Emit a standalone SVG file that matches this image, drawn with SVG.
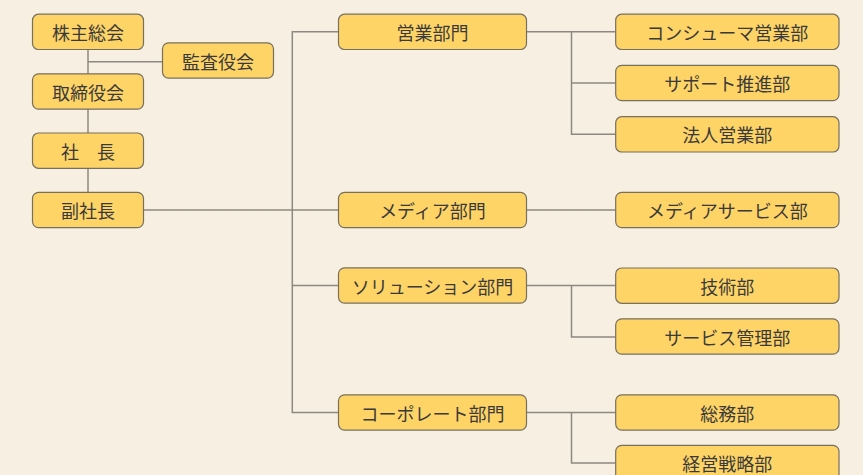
<svg xmlns="http://www.w3.org/2000/svg" width="863" height="475" viewBox="0 0 863 475">
<style>
.bg{fill:#F6EFE2}
.box{fill:#FFD466;stroke:#77705F;stroke-width:1.2}
.lbl{font-family:"Noto Sans CJK JP","Noto Sans",sans-serif;font-size:18px;fill:#3A3A3A;text-anchor:middle;dominant-baseline:central}
.con{stroke:#8E8880;stroke-width:1.5;fill:none}
</style>
<rect class="bg" x="0" y="0" width="863" height="475"/>
<g id="connectors">
<path class="con" d="M88,49 V193"/>
<path class="con" d="M88,61.7 H162.5"/>
<path class="con" d="M143.5,210 H338.5"/>
<path class="con" d="M338.5,31.8 H292.3 V412.5 H338.5"/>
<path class="con" d="M292.3,285.5 H338.5"/>
<path class="con" d="M526.5,31.8 H615.7"/>
<path class="con" d="M571.5,31.8 V134.3 H615.7"/>
<path class="con" d="M571.5,83 H615.7"/>
<path class="con" d="M526.5,210 H615.7"/>
<path class="con" d="M526.5,285.5 H615.7"/>
<path class="con" d="M571.5,285.5 V337 H615.7"/>
<path class="con" d="M526.5,412.5 H615.7"/>
<path class="con" d="M571.5,412.5 V463 H615.7"/>
</g>
<g id="n-kabunushi"><rect class="box" x="32.5" y="14.2" width="111" height="35.3" rx="6"/><text class="lbl" x="88" y="31.8">株主総会</text></g>
<g id="n-kansa"><rect class="box" x="162.5" y="42.8" width="111" height="35.3" rx="6"/><text class="lbl" x="218" y="60.5">監査役会</text></g>
<g id="n-torishimari"><rect class="box" x="32.5" y="73.8" width="111" height="35.3" rx="6"/><text class="lbl" x="88" y="91.5">取締役会</text></g>
<g id="n-shacho"><rect class="box" x="32.5" y="133" width="111" height="35.3" rx="6"/><text class="lbl" x="88" y="150.7">社　長</text></g>
<g id="n-fukushacho"><rect class="box" x="32.5" y="192.3" width="111" height="35.3" rx="6"/><text class="lbl" x="88" y="210">副社長</text></g>
<g id="n-eigyo"><rect class="box" x="338.5" y="14.2" width="188" height="35.3" rx="6"/><text class="lbl" x="432.5" y="31.8">営業部門</text></g>
<g id="n-media"><rect class="box" x="338.5" y="192.3" width="188" height="35.3" rx="6"/><text class="lbl" x="432.5" y="210">メディア部門</text></g>
<g id="n-solution"><rect class="box" x="338.5" y="267.8" width="188" height="35.3" rx="6"/><text class="lbl" x="432.5" y="285.5">ソリューション部門</text></g>
<g id="n-corporate"><rect class="box" x="338.5" y="394.8" width="188" height="35.3" rx="6"/><text class="lbl" x="432.5" y="412.5">コーポレート部門</text></g>
<g id="n-consumer"><rect class="box" x="615.7" y="14.2" width="223.3" height="35.3" rx="6"/><text class="lbl" x="727.3" y="31.8">コンシューマ営業部</text></g>
<g id="n-support"><rect class="box" x="615.7" y="65.3" width="223.3" height="35.3" rx="6"/><text class="lbl" x="727.3" y="83">サポート推進部</text></g>
<g id="n-hojin"><rect class="box" x="615.7" y="116.7" width="223.3" height="35.3" rx="6"/><text class="lbl" x="727.3" y="134.3">法人営業部</text></g>
<g id="n-mediaservice"><rect class="box" x="615.7" y="192.3" width="223.3" height="35.3" rx="6"/><text class="lbl" x="727.3" y="210">メディアサービス部</text></g>
<g id="n-gijutsu"><rect class="box" x="615.7" y="268" width="223.3" height="35.3" rx="6"/><text class="lbl" x="727.3" y="285.6">技術部</text></g>
<g id="n-servicekanri"><rect class="box" x="615.7" y="318.8" width="223.3" height="35.3" rx="6"/><text class="lbl" x="727.3" y="336.5">サービス管理部</text></g>
<g id="n-somu"><rect class="box" x="615.7" y="394.8" width="223.3" height="35.3" rx="6"/><text class="lbl" x="727.3" y="412.5">総務部</text></g>
<g id="n-keiei"><rect class="box" x="615.7" y="445.4" width="223.3" height="35.3" rx="6"/><text class="lbl" x="727.3" y="463">経営戦略部</text></g>
</svg>
